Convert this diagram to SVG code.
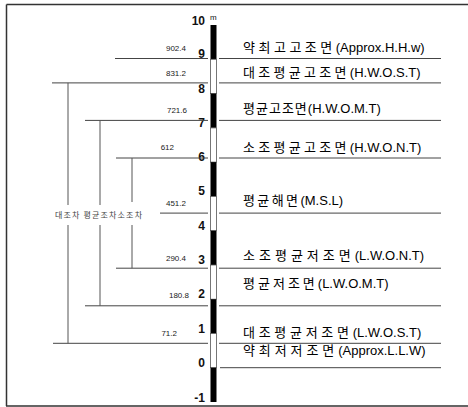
<svg xmlns="http://www.w3.org/2000/svg" width="468" height="407" viewBox="0 0 468 407">
<style>
.frame{stroke:#333;stroke-width:1.5;fill:none}
.lvl{stroke:#444;stroke-width:1;fill:none}
.vl{stroke:#555;stroke-width:1;fill:none}
.blk{fill:#000}
.wht{fill:#fff;stroke:#555;stroke-width:0.8}
.tick{font-family:"Liberation Sans",Arial,sans-serif;font-weight:bold;font-size:12px;fill:#111;text-anchor:end}
.num{font-family:"Liberation Sans",Arial,sans-serif;font-size:8px;fill:#222;text-anchor:end}
.lab{font-family:"Liberation Sans","Noto Sans CJK KR",sans-serif;fill:#000}
.ko{font-family:"Noto Sans CJK KR",sans-serif;font-size:13px}
.en{font-family:"Liberation Sans",Arial,sans-serif;font-size:13px;letter-spacing:0}
.rng{font-family:"Noto Sans CJK KR",sans-serif;font-size:8px;fill:#444}
</style>
<g id="frame">
<path class="frame" d="M6.5,4.5 H470 M6.5,4.5 V406 M6,406 H470"/>
</g>
<g id="scale-bar">
<rect class="blk" x="210.5" y="25" width="6" height="34.3"/>
<rect class="wht" x="210.5" y="59.3" width="6" height="34.3"/>
<rect class="blk" x="210.5" y="93.6" width="6" height="34.3"/>
<rect class="wht" x="210.5" y="127.9" width="6" height="34.2"/>
<rect class="blk" x="210.5" y="162.1" width="6" height="34.3"/>
<rect class="wht" x="210.5" y="196.4" width="6" height="34.3"/>
<rect class="blk" x="210.5" y="230.7" width="6" height="34.3"/>
<rect class="wht" x="210.5" y="265" width="6" height="34.2"/>
<rect class="blk" x="210.5" y="299.2" width="6" height="34.3"/>
<rect class="wht" x="210.5" y="333.5" width="6" height="34.2"/>
<rect class="blk" x="210.5" y="367.7" width="6" height="34.3"/>
<text class="tick" x="205" y="25">10</text>
<text x="210" y="20" style="font-family:'Liberation Sans',Arial,sans-serif;font-size:8px;fill:#111">m</text>
<text class="tick" x="205" y="58.3">9</text>
<text class="tick" x="205" y="92.6">8</text>
<text class="tick" x="205" y="126.9">7</text>
<text class="tick" x="205" y="161.1">6</text>
<text class="tick" x="205" y="195.4">5</text>
<text class="tick" x="205" y="229.7">4</text>
<text class="tick" x="205" y="264">3</text>
<text class="tick" x="205" y="298.2">2</text>
<text class="tick" x="205" y="332.5">1</text>
<text class="tick" x="205" y="366.7">0</text>
<text class="tick" x="205" y="402">-1</text>
</g>
<g id="connectors">
<path class="lvl" d="M115,58.5 H208 M219,58.5 H441"/>
<path class="lvl" d="M52,82.9 H208 M219,82.9 H441"/>
<path class="lvl" d="M85,120.4 H208 M219,120.4 H441"/>
<path class="lvl" d="M116,158 H208 M219,158 H441"/>
<path class="lvl" d="M160,213.1 H208 M219,213.1 H441"/>
<path class="lvl" d="M116,268.2 H208 M219,268.2 H441"/>
<path class="lvl" d="M85,305.8 H208 M219,305.8 H441"/>
<path class="lvl" d="M53,343.3 H208 M219,343.3 H441"/>
<path class="lvl" d="M220,367.7 H441"/>
<path class="vl" d="M68,82.9 V205 M68,225 V343.3"/>
<path class="vl" d="M100,120.4 V205 M100,225 V305.8"/>
<path class="vl" d="M132,158 V202 M132,225 V268.2"/>
</g>
<g id="level-values">
<text class="num" x="186" y="51">902.4</text>
<text class="num" x="186" y="76">831.2</text>
<text class="num" x="187" y="113">721.6</text>
<text class="num" x="174" y="150">612</text>
<text class="num" x="186" y="206">451.2</text>
<text class="num" x="186" y="261">290.4</text>
<text class="num" x="189" y="298">180.8</text>
<text class="num" x="177" y="336">71.2</text>
</g>
<g id="range-label">
<text class="rng" x="55" y="218" textLength="87" lengthAdjust="spacing">대조차 평균조차소조차</text>
</g>
<g id="level-names">
<text class="lab" x="243" y="52"><tspan class="ko" style="letter-spacing:3.5px">약최고고조면</tspan><tspan class="en">(Approx.H.H.w)</tspan></text>
<text class="lab" x="243" y="77"><tspan class="ko" style="letter-spacing:3.3px">대조평균고조면</tspan><tspan class="en">(H.W.O.S.T)</tspan></text>
<text class="lab" x="243" y="113"><tspan class="ko" style="letter-spacing:1px">평균고조면</tspan><tspan class="en">(H.W.O.M.T)</tspan></text>
<text class="lab" x="243" y="152"><tspan class="ko" style="letter-spacing:3.3px">소조평균고조면</tspan><tspan class="en">(H.W.O.N.T)</tspan></text>
<text class="lab" x="243" y="205"><tspan class="ko" style="letter-spacing:2.4px">평균해면</tspan><tspan class="en">(M.S.L)</tspan></text>
<text class="lab" x="243" y="260"><tspan class="ko" style="letter-spacing:4px">소조평균저조면</tspan><tspan class="en">(L.W.O.N.T)</tspan></text>
<text class="lab" x="243" y="288"><tspan class="ko" style="letter-spacing:3px">평균저조면</tspan><tspan class="en">(L.W.O.M.T)</tspan></text>
<text class="lab" x="243" y="337"><tspan class="ko" style="letter-spacing:3.7px">대조평균저조면</tspan><tspan class="en">(L.W.O.S.T)</tspan></text>
<text class="lab" x="243" y="355"><tspan class="ko" style="letter-spacing:3.9px">약최저저조면</tspan><tspan class="en">(Approx.L.L.W)</tspan></text>
</g>
</svg>
